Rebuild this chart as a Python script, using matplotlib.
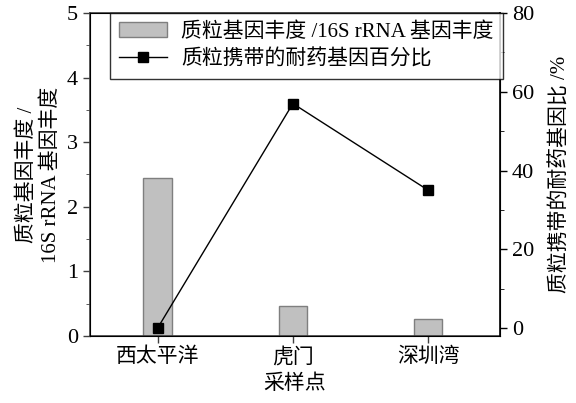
from matplotlib import pyplot as plt
from matplotlib.ticker import MultipleLocator
import numpy as np

plt.rcParams['font.family'] = ['Liberation Serif', 'Noto Sans CJK SC']

sites = ['西太平洋', '虎门', '深圳湾']
abundance = [2.45, 0.46, 0.26]      # 质粒基因丰度 / 16S rRNA 基因丰度
percent = [0.0, 57.0, 35.0]         # 质粒携带的耐药基因百分比 (%)

fig = plt.figure(figsize=(5.76, 4.03), dpi=100)
ax = fig.add_axes([0.156, 0.166, 0.712, 0.802])
x = np.arange(len(sites))

bars = ax.bar(x, abundance, width=0.21, color='#c0c0c0', edgecolor='#7f7f7f',
              linewidth=1, label='质粒基因丰度 /16S rRNA 基因丰度', zorder=2)
ax.set_xlim(-0.5, 2.53)
ax.set_ylim(0, 5)
ax.yaxis.set_major_locator(MultipleLocator(1))
ax.yaxis.set_minor_locator(MultipleLocator(0.5))
ax.set_xticks(x)
ax.set_xticklabels(sites, fontsize=15)
ax.set_xlabel('采样点', fontsize=15, labelpad=5)
ax.set_ylabel('质粒基因丰度 /\n16S rRNA 基因丰度', fontsize=15, linespacing=1.35, labelpad=4)
ax.tick_params(axis='both', labelsize=16, direction='out', length=5, width=1, colors='#404040', labelcolor='black')
ax.tick_params(axis='x', labelsize=15)
ax.tick_params(axis='y', which='minor', length=3, direction='out', colors='#404040')
for s in ['left', 'bottom', 'top']:
    ax.spines[s].set_color('#404040')
    ax.spines[s].set_linewidth(1.2)

ax2 = ax.twinx()
line, = ax2.plot(x, percent, color='black', linewidth=1, marker='s', markersize=7,
                 label='质粒携带的耐药基因百分比', zorder=3)
ax2.set_ylim(-2, 80)
ax2.yaxis.set_major_locator(MultipleLocator(20))
ax2.yaxis.set_minor_locator(MultipleLocator(10))
ax2.tick_params(axis='y', labelsize=16, direction='out', length=5, width=1)
ax2.tick_params(axis='y', which='minor', length=3, direction='out')
ax2.set_ylabel('质粒携带的耐药基因比 /%', fontsize=15, labelpad=12)
ax2.spines['right'].set_linewidth(1.2)

leg = ax2.legend([bars, line], [bars.get_label(), line.get_label()],
                 loc='upper left', bbox_to_anchor=(0.048, 1.0), fontsize=15,
                 frameon=True, fancybox=False, edgecolor='black',
                 borderpad=0.45, labelspacing=0.35, handlelength=2.3, handletextpad=0.7,
                 borderaxespad=0)
leg.get_frame().set_linewidth(1)

fig.savefig('out.png', dpi=100)
